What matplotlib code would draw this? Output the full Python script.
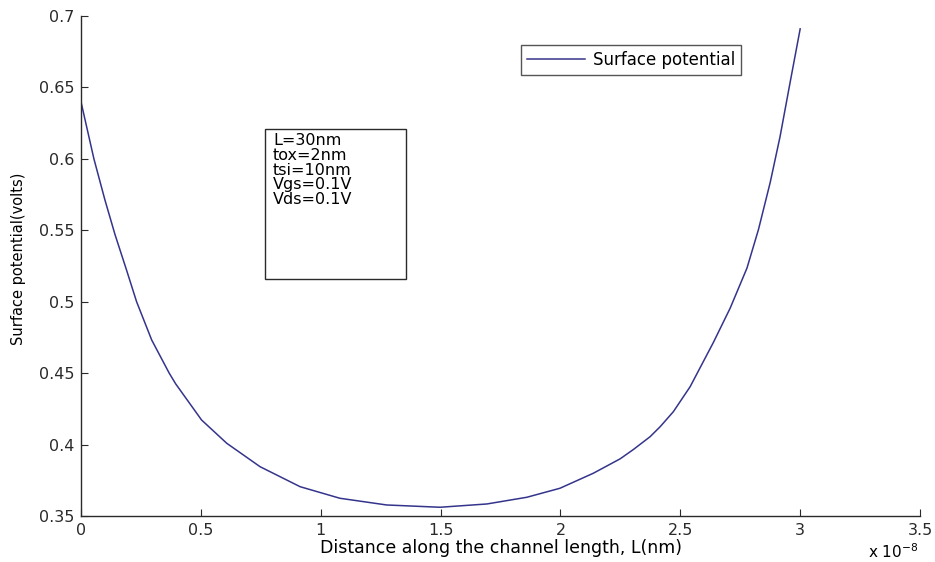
import matplotlib
matplotlib.use("Agg")
import matplotlib.pyplot as plt

# distance along channel (x 1e-8 m) and surface potential (V)
dist = [0.0, 0.054, 0.100, 0.142, 0.190, 0.232, 0.295, 0.368, 0.395, 0.503, 0.608, 0.747,
        0.914, 1.080, 1.275, 1.498, 1.693, 1.860, 1.998, 2.137, 2.249, 2.304, 2.374, 2.416,
        2.471, 2.541, 2.638, 2.708, 2.778, 2.826, 2.875, 2.916, 2.958, 3.0]
phi_s = [0.640, 0.600, 0.5712, 0.547, 0.5222, 0.500, 0.4732, 0.450, 0.4425, 0.4172, 0.4009,
         0.3845, 0.3705, 0.3624, 0.3577, 0.3561, 0.3584, 0.3631, 0.3694, 0.3799, 0.3900,
         0.3965, 0.4055, 0.4125, 0.423, 0.4405, 0.4715, 0.4955, 0.5235, 0.5505, 0.5835,
         0.6155, 0.6535, 0.691]

x_ticks = [0, 0.5, 1, 1.5, 2, 2.5, 3, 3.5]
y_ticks = [0.35, 0.4, 0.45, 0.5, 0.55, 0.6, 0.65, 0.7]
params = ["L=30nm", "tox=2nm", "tsi=10nm", "Vgs=0.1V", "Vds=0.1V"]

LINE_C = "#34348c"
EDGE = "#2a2a2a"

plt.rcParams["font.family"] = ["DejaVu Sans"]

fig = plt.figure(figsize=(9.35, 5.62), dpi=100)
ax = fig.add_axes([0.0866, 0.0819, 0.8974, 0.8896])

ax.plot(dist, phi_s, color=LINE_C, lw=1.1, label="Surface potential")

ax.set_xlim(0, 3.5)
ax.set_ylim(0.35, 0.7)
ax.set_xticks(x_ticks)
ax.set_xticklabels([f"{v:g}" for v in x_ticks])
ax.set_yticks(y_ticks)
ax.set_yticklabels([f"{v:g}" for v in y_ticks])
ax.tick_params(direction="in", length=5, width=0.8, labelsize=11.5, pad=5, colors=EDGE)

for s in ["top", "right"]:
    ax.spines[s].set_visible(False)
for s in ["left", "bottom"]:
    ax.spines[s].set_color(EDGE)
    ax.spines[s].set_linewidth(1.0)

ax.set_xlabel("Distance along the channel length, L(nm)", fontsize=12.5, labelpad=1)
ax.set_ylabel("Surface potential(volts)", fontsize=10.5)
ax.yaxis.set_label_coords(-0.066, 0.515)

# exponent note like matlab
ax.text(0.998, -0.052, r"x 10$^{-8}$", transform=ax.transAxes, ha="right", va="top", fontsize=11)

# parameter box
fig.patches.append(plt.Rectangle((265 / 935, 1 - 279 / 562), 141 / 935, 150 / 562,
                                 transform=fig.transFigure, fill=False,
                                 edgecolor=EDGE, lw=1.0))
fig.text(273 / 935, 1 - 133 / 562, "\n".join(params), ha="left", va="top",
         fontsize=11.5, linespacing=0.98)

leg = ax.legend(loc="upper left", bbox_to_anchor=((521 - 81) / 839, 1 - (45 - 16) / 500),
                frameon=True, fancybox=False, fontsize=12, handlelength=3.5,
                borderpad=0.35, borderaxespad=0, handletextpad=0.45)
leg.get_frame().set_edgecolor(EDGE)
leg.get_frame().set_linewidth(1.0)

fig.savefig("out.png", dpi=100)
